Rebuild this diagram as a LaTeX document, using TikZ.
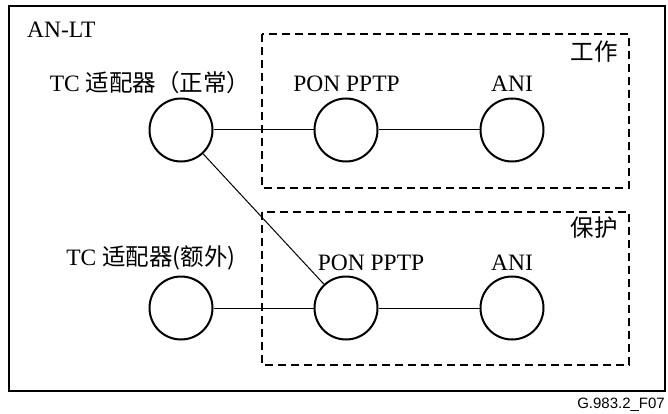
\documentclass[tikz,border=0pt]{standalone}
\usepackage{fontspec}
\setmainfont{Liberation Serif}
\setsansfont{Liberation Sans}
\newfontfamily\cjk{Noto Sans CJK SC}

\tikzset{
  port/.style={circle, draw, line width=2pt, minimum size=63pt, inner sep=0pt},
  link/.style={line width=1pt},
  group/.style={draw, line width=1.4pt, dash pattern=on 8pt off 5pt},
  lbl/.style={anchor=base, inner sep=0pt, font=\fontsize{23.5}{27}\selectfont}
}

\begin{document}
\begin{tikzpicture}[x=1pt, y=-1pt]
    \useasboundingbox (0,0) rectangle (668,414);

    % Outer AN-LT frame and the two dashed groups
    \draw[line width=1.3pt] (9,6) rectangle (665,391);
    \draw[group] (262,34) rectangle (629,188);
    \draw[group] (262,212) rectangle (629,365);

    % Ports (n = normal, x = extra; w = working, p = protection)
    \node[port] (tcn) at (181,130) {};
    \node[port] (ponw) at (346,130) {};
    \node[port] (aniw) at (512,130) {};
    \node[port] (tcx) at (181,308) {};
    \node[port] (ponp) at (346,308) {};
    \node[port] (anip) at (512,308) {};

    % Links
    \draw[link] (tcn) -- (ponw) -- (aniw);
    \draw[link] (tcx) -- (ponp) -- (anip);
    \draw[link] (tcn) -- (ponp);

    % Labels
    \node[lbl, anchor=base west] (anlt) at (27,38) {AN-LT};
    \node[lbl] (ltcn) at (150,92) {TC {\cjk 适配器（正常）}};
    \node[lbl] (lponw) at (346.5,92) {PON PPTP};
    \node[lbl] (laniw) at (512,92) {ANI};
    \node[lbl, anchor=base east] (lwork) at (618,61) {\cjk 工作};
    \node[lbl] (ltcx) at (151,265) {TC {\cjk 适配器(额外)}};
    \node[lbl] (lponp) at (371,270) {PON PPTP};
    \node[lbl] (lanip) at (512,270) {ANI};
    \node[lbl, anchor=base east] (lprot) at (618,236) {\cjk 保护};
    \node[anchor=base east, inner sep=0pt, font=\sffamily\fontsize{15}{18}\selectfont] (fig) at (665,408) {G.983.2\_F07};
\end{tikzpicture}
\end{document}
